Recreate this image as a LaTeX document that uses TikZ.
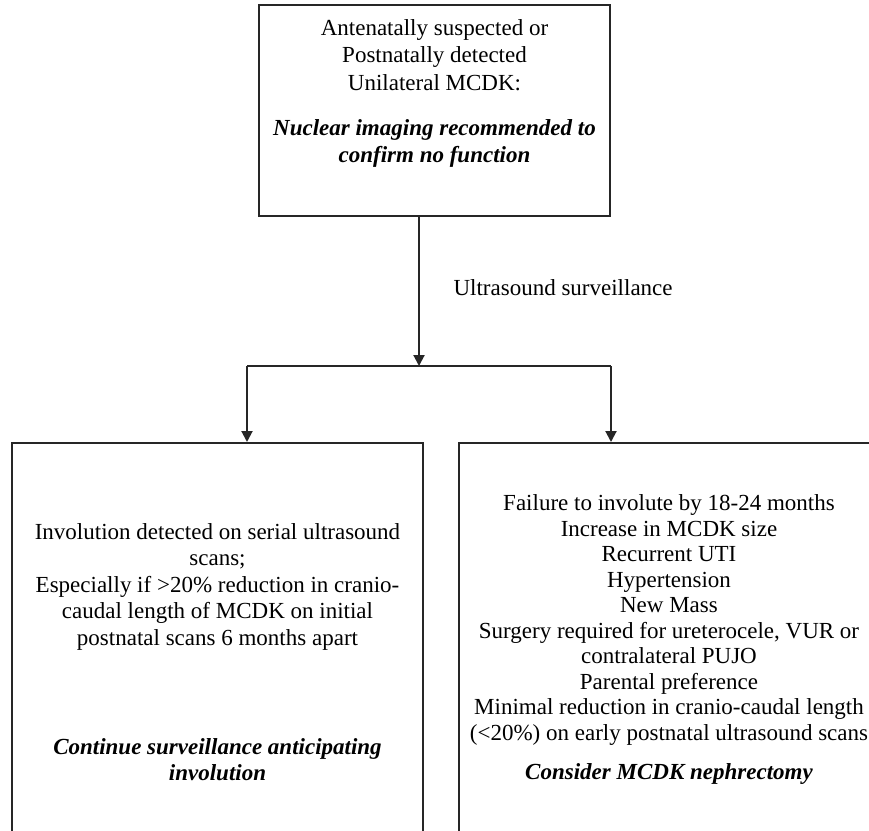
\documentclass[tikz,border=0pt]{standalone}
\usepackage{fontspec}
\setmainfont{Liberation Serif}
\usetikzlibrary{arrows.meta}
\newcommand{\boxcol}{black!85}
\newcommand{\txtsize}{\fontsize{23}{26.5}\selectfont}
\newcommand{\listsize}{\fontsize{23}{25.5}\selectfont}
\newcommand{\topsize}{\fontsize{23}{27.5}\selectfont}

\begin{document}
\begin{tikzpicture}[x=1pt, y=-1pt]
    \useasboundingbox (0, 0) rectangle (869, 830);

    \node[draw=\boxcol, line width=2pt, minimum width=351pt, minimum height=211pt] (suspect) at (434.5, 110.5) {};
    \node[draw=\boxcol, line width=2pt, minimum width=411pt, minimum height=457pt] (involute) at (217.5, 671.5) {};
    \node[draw=\boxcol, line width=2pt, minimum width=420pt, minimum height=457pt] (nephrect) at (669, 671.5) {};

    \node[align=center, font=\topsize] (suspecttxt) at (434.5, 55) {Antenatally suspected or\\Postnatally detected\\Unilateral MCDK:};
    \node[align=center, font=\topsize\bfseries\itshape] (suspectrec) at (434.5, 143.5) {Nuclear imaging recommended to\\confirm no function};

    \node[align=center, font=\txtsize] (involutetxt) at (217.5, 586.5) {Involution detected on serial ultrasound\\scans;\\Especially if >20\% reduction in cranio-\\caudal length of MCDK on initial\\postnatal scans 6 months apart};
    \node[align=center, font=\txtsize\bfseries\itshape] (involuterec) at (217.5, 759.5) {Continue surveillance anticipating\\involution};

    \node[align=center, font=\listsize] (nephrecttxt) at (669, 620) {Failure to involute by 18-24 months\\Increase in MCDK size\\Recurrent UTI\\Hypertension\\New Mass\\Surgery required for ureterocele, VUR or\\contralateral PUJO\\Parental preference\\Minimal reduction in cranio-caudal length\\(<20\%) on early postnatal ultrasound scans};
    \node[align=center, font=\txtsize\bfseries\itshape] (nephrectrec) at (669, 774) {Consider MCDK nephrectomy};

    \node[anchor=west, font=\txtsize] (usound) at (450, 288) {Ultrasound surveillance};

    \coordinate (split) at (419, 366);
    \coordinate (lturn) at (247, 366);
    \coordinate (rturn) at (611, 366);

    \draw[draw=\boxcol, line width=2pt, -{Triangle[length=11pt, width=11pt]}] (split |- suspect.south) -- (split);
    \draw[draw=\boxcol, line width=2pt] (lturn) -- (rturn);
    \draw[draw=\boxcol, line width=2pt, -{Triangle[length=11pt, width=11pt]}] (lturn) -- (lturn |- involute.north);
    \draw[draw=\boxcol, line width=2pt, -{Triangle[length=11pt, width=11pt]}] (rturn) -- (rturn |- nephrect.north);

\end{tikzpicture}
\end{document}
